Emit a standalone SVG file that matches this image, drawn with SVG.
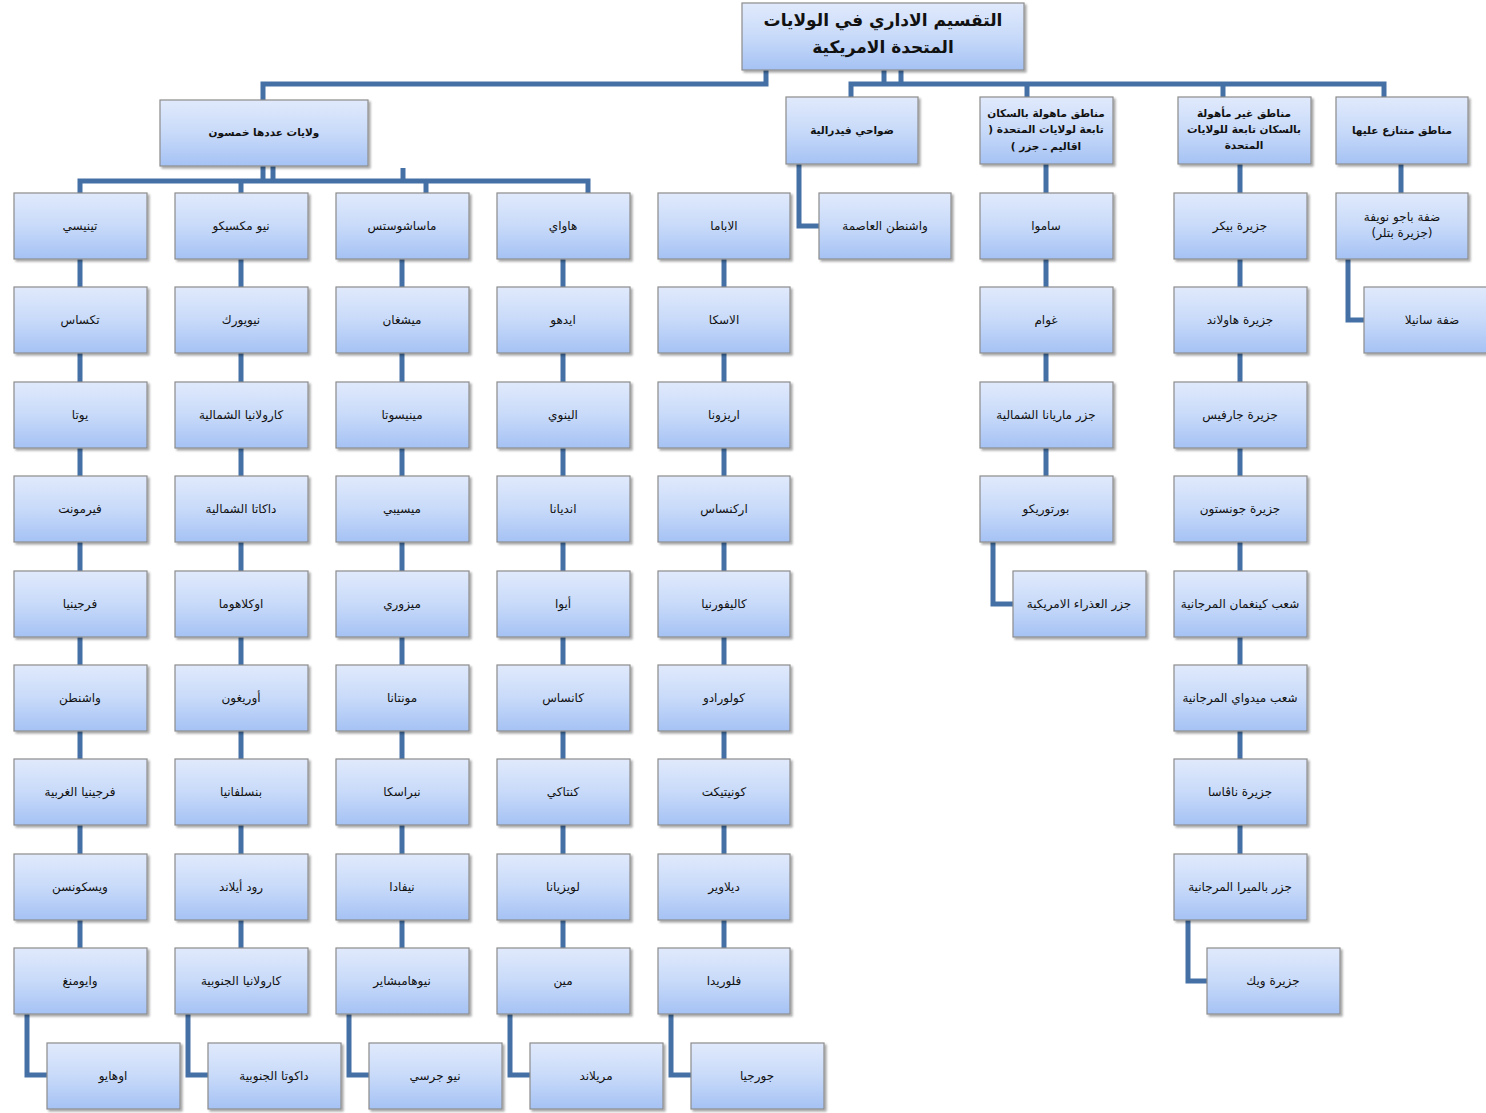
<svg xmlns="http://www.w3.org/2000/svg" width="1486" height="1113" viewBox="0 0 1486 1113">
<defs>
<linearGradient id="g" x1="0" y1="0" x2="0" y2="1">
<stop offset="0" stop-color="#e1eafc"/>
<stop offset="0.5" stop-color="#c8daf9"/>
<stop offset="1" stop-color="#a5c2f4"/>
</linearGradient>
<filter id="sh" x="-10%" y="-10%" width="125%" height="130%">
<feDropShadow dx="2" dy="2" stdDeviation="1.2" flood-color="#000" flood-opacity="0.35"/>
</filter>
<style>
.b{fill:url(#g);stroke:#8c8c8c;stroke-width:1.2;filter:url(#sh)}
.t{font-family:"DejaVu Sans",sans-serif;font-size:12px;fill:#111;text-anchor:middle;direction:rtl}
.h{font-weight:bold;font-size:10.5px}
.ti{font-weight:bold;font-size:17px}
.c{fill:none;stroke:#4470a6;stroke-width:5;stroke-linejoin:miter}
</style>
</defs>
<rect width="1486" height="1113" fill="#fff"/>
<g id="connectors" class="c">
<polyline points="766,70 766,84 263,84 263,100"/>
<line x1="884" y1="70" x2="884" y2="84"/>
<line x1="901" y1="70" x2="901" y2="84"/>
<polyline points="851,97 851,84 1384,84 1384,97"/>
<line x1="1027" y1="84" x2="1027" y2="97"/>
<line x1="1223" y1="84" x2="1223" y2="97"/>
<line x1="263" y1="166" x2="263" y2="181"/>
<line x1="273" y1="166" x2="273" y2="181"/>
<line x1="403" y1="168" x2="403" y2="181"/>
<polyline points="80,193 80,181 588,181 588,193"/>
<line x1="241" y1="181" x2="241" y2="193"/>
<line x1="426" y1="181" x2="426" y2="193"/>
<line x1="80" y1="226" x2="80" y2="981"/>
<line x1="241" y1="226" x2="241" y2="981"/>
<line x1="402" y1="226" x2="402" y2="981"/>
<line x1="563" y1="226" x2="563" y2="981"/>
<line x1="724" y1="226" x2="724" y2="981"/>
<polyline points="27,1014 27,1075 47,1075"/>
<polyline points="188,1014 188,1075 208,1075"/>
<polyline points="349,1014 349,1075 369,1075"/>
<polyline points="510,1014 510,1075 530,1075"/>
<polyline points="671,1014 671,1075 691,1075"/>
<polyline points="799,164 799,226 819,226"/>
<line x1="1046" y1="164" x2="1046" y2="509"/>
<polyline points="993,542 993,604 1013,604"/>
<line x1="1240" y1="164" x2="1240" y2="887"/>
<polyline points="1188,920 1188,981 1207,981"/>
<line x1="1401" y1="164" x2="1401" y2="193"/>
<polyline points="1348,259 1348,320 1364,320"/>
</g>
<g id="title"><rect class="b" x="742" y="3" width="282" height="67"/><text class="t ti" x="883" y="26">التقسيم الاداري في الولايات</text><text class="t ti" x="883" y="53">المتحدة الامريكية</text></g>
<g id="states50"><rect class="b" x="160" y="100" width="208" height="66"/><text class="t h" x="264" y="136">ولايات عددها خمسون</text></g>
<g id="federal"><rect class="b" x="786" y="97" width="132" height="67"/><text class="t h" x="852" y="134">ضواحي فيدرالية</text></g>
<g id="inhabited"><rect class="b" x="980" y="97" width="133" height="67"/><text class="t h" x="1046" y="117">مناطق ماهولة بالسكان</text><text class="t h" x="1046" y="133">تابعة لولايات المتحدة (</text><text class="t h" x="1046" y="150">اقاليم ـ جزر )</text></g>
<g id="uninhabited"><rect class="b" x="1178" y="97" width="133" height="67"/><text class="t h" x="1244" y="117">مناطق غير مأهولة</text><text class="t h" x="1244" y="133">بالسكان تابعة للولايات</text><text class="t h" x="1244" y="149">المتحدة</text></g>
<g id="disputed"><rect class="b" x="1336" y="97" width="132" height="67"/><text class="t h" x="1402" y="134">مناطق متنازع عليها</text></g>

<g id="colA">
<g id="n-a1"><rect class="b" x="14" y="193" width="133" height="66"/><text class="t" x="80" y="230">تينيسي</text></g>
<g id="n-a2"><rect class="b" x="14" y="287" width="133" height="66"/><text class="t" x="80" y="324">تكساس</text></g>
<g id="n-a3"><rect class="b" x="14" y="382" width="133" height="66"/><text class="t" x="80" y="419">يوتا</text></g>
<g id="n-a4"><rect class="b" x="14" y="476" width="133" height="66"/><text class="t" x="80" y="513">فيرمونت</text></g>
<g id="n-a5"><rect class="b" x="14" y="571" width="133" height="66"/><text class="t" x="80" y="608">فرجينيا</text></g>
<g id="n-a6"><rect class="b" x="14" y="665" width="133" height="66"/><text class="t" x="80" y="702">واشنطن</text></g>
<g id="n-a7"><rect class="b" x="14" y="759" width="133" height="66"/><text class="t" x="80" y="796">فرجينيا الغربية</text></g>
<g id="n-a8"><rect class="b" x="14" y="854" width="133" height="66"/><text class="t" x="80" y="891">ويسكونسن</text></g>
<g id="n-a9"><rect class="b" x="14" y="948" width="133" height="66"/><text class="t" x="80" y="985">وايومنغ</text></g>
<g id="n-a10"><rect class="b" x="47" y="1043" width="133" height="66"/><text class="t" x="113" y="1080">اوهايو</text></g>
</g>
<g id="colB">
<g id="n-b1"><rect class="b" x="175" y="193" width="133" height="66"/><text class="t" x="241" y="230">نيو مكسيكو</text></g>
<g id="n-b2"><rect class="b" x="175" y="287" width="133" height="66"/><text class="t" x="241" y="324">نيويورك</text></g>
<g id="n-b3"><rect class="b" x="175" y="382" width="133" height="66"/><text class="t" x="241" y="419">كارولانيا الشمالية</text></g>
<g id="n-b4"><rect class="b" x="175" y="476" width="133" height="66"/><text class="t" x="241" y="513">داكاتا الشمالية</text></g>
<g id="n-b5"><rect class="b" x="175" y="571" width="133" height="66"/><text class="t" x="241" y="608">اوكلاهوما</text></g>
<g id="n-b6"><rect class="b" x="175" y="665" width="133" height="66"/><text class="t" x="241" y="702">أوريغون</text></g>
<g id="n-b7"><rect class="b" x="175" y="759" width="133" height="66"/><text class="t" x="241" y="796">بنسلفانيا</text></g>
<g id="n-b8"><rect class="b" x="175" y="854" width="133" height="66"/><text class="t" x="241" y="891">رود أيلاند</text></g>
<g id="n-b9"><rect class="b" x="175" y="948" width="133" height="66"/><text class="t" x="241" y="985">كارولانيا الجنوبية</text></g>
<g id="n-b10"><rect class="b" x="208" y="1043" width="133" height="66"/><text class="t" x="274" y="1080">داكوتا الجنوبية</text></g>
</g>
<g id="colC">
<g id="n-c1"><rect class="b" x="336" y="193" width="133" height="66"/><text class="t" x="402" y="230">ماساشوستس</text></g>
<g id="n-c2"><rect class="b" x="336" y="287" width="133" height="66"/><text class="t" x="402" y="324">ميشغان</text></g>
<g id="n-c3"><rect class="b" x="336" y="382" width="133" height="66"/><text class="t" x="402" y="419">مينيسوتا</text></g>
<g id="n-c4"><rect class="b" x="336" y="476" width="133" height="66"/><text class="t" x="402" y="513">ميسيبي</text></g>
<g id="n-c5"><rect class="b" x="336" y="571" width="133" height="66"/><text class="t" x="402" y="608">ميزوري</text></g>
<g id="n-c6"><rect class="b" x="336" y="665" width="133" height="66"/><text class="t" x="402" y="702">مونتانا</text></g>
<g id="n-c7"><rect class="b" x="336" y="759" width="133" height="66"/><text class="t" x="402" y="796">نبراسكا</text></g>
<g id="n-c8"><rect class="b" x="336" y="854" width="133" height="66"/><text class="t" x="402" y="891">نيفادا</text></g>
<g id="n-c9"><rect class="b" x="336" y="948" width="133" height="66"/><text class="t" x="402" y="985">نيوهامبشاير</text></g>
<g id="n-c10"><rect class="b" x="369" y="1043" width="133" height="66"/><text class="t" x="435" y="1080">نيو جرسي</text></g>
</g>
<g id="colD">
<g id="n-d1"><rect class="b" x="497" y="193" width="133" height="66"/><text class="t" x="563" y="230">هاواي</text></g>
<g id="n-d2"><rect class="b" x="497" y="287" width="133" height="66"/><text class="t" x="563" y="324">ايدهو</text></g>
<g id="n-d3"><rect class="b" x="497" y="382" width="133" height="66"/><text class="t" x="563" y="419">الينوي</text></g>
<g id="n-d4"><rect class="b" x="497" y="476" width="133" height="66"/><text class="t" x="563" y="513">انديانا</text></g>
<g id="n-d5"><rect class="b" x="497" y="571" width="133" height="66"/><text class="t" x="563" y="608">أيوا</text></g>
<g id="n-d6"><rect class="b" x="497" y="665" width="133" height="66"/><text class="t" x="563" y="702">كانساس</text></g>
<g id="n-d7"><rect class="b" x="497" y="759" width="133" height="66"/><text class="t" x="563" y="796">كنتاكي</text></g>
<g id="n-d8"><rect class="b" x="497" y="854" width="133" height="66"/><text class="t" x="563" y="891">لويزيانا</text></g>
<g id="n-d9"><rect class="b" x="497" y="948" width="133" height="66"/><text class="t" x="563" y="985">مين</text></g>
<g id="n-d10"><rect class="b" x="530" y="1043" width="133" height="66"/><text class="t" x="596" y="1080">مريلاند</text></g>
</g>
<g id="colE">
<g id="n-e1"><rect class="b" x="658" y="193" width="132" height="66"/><text class="t" x="724" y="230">الاباما</text></g>
<g id="n-e2"><rect class="b" x="658" y="287" width="132" height="66"/><text class="t" x="724" y="324">الاسكا</text></g>
<g id="n-e3"><rect class="b" x="658" y="382" width="132" height="66"/><text class="t" x="724" y="419">اريزونا</text></g>
<g id="n-e4"><rect class="b" x="658" y="476" width="132" height="66"/><text class="t" x="724" y="513">اركنساس</text></g>
<g id="n-e5"><rect class="b" x="658" y="571" width="132" height="66"/><text class="t" x="724" y="608">كاليفورنيا</text></g>
<g id="n-e6"><rect class="b" x="658" y="665" width="132" height="66"/><text class="t" x="724" y="702">كولورادو</text></g>
<g id="n-e7"><rect class="b" x="658" y="759" width="132" height="66"/><text class="t" x="724" y="796">كونيتيكت</text></g>
<g id="n-e8"><rect class="b" x="658" y="854" width="132" height="66"/><text class="t" x="724" y="891">ديلاوير</text></g>
<g id="n-e9"><rect class="b" x="658" y="948" width="132" height="66"/><text class="t" x="724" y="985">فلوريدا</text></g>
<g id="n-e10"><rect class="b" x="691" y="1043" width="133" height="66"/><text class="t" x="757" y="1080">جورجيا</text></g>
</g>
<g id="n-dc"><rect class="b" x="819" y="193" width="132" height="66"/><text class="t" x="885" y="230">واشنطن العاصمة</text></g>
<g id="colF">
<g id="n-f1"><rect class="b" x="980" y="193" width="133" height="66"/><text class="t" x="1046" y="230">ساموا</text></g>
<g id="n-f2"><rect class="b" x="980" y="287" width="133" height="66"/><text class="t" x="1046" y="324">غوام</text></g>
<g id="n-f3"><rect class="b" x="980" y="382" width="133" height="66"/><text class="t" x="1046" y="419">جزر ماريانا الشمالية</text></g>
<g id="n-f4"><rect class="b" x="980" y="476" width="133" height="66"/><text class="t" x="1046" y="513">بورتوريكو</text></g>
<g id="n-f5"><rect class="b" x="1013" y="571" width="133" height="66"/><text class="t" x="1079" y="608">جزر العذراء الامريكية</text></g>
</g>
<g id="colG">
<g id="n-g1"><rect class="b" x="1174" y="193" width="133" height="66"/><text class="t" x="1240" y="230">جزيرة بيكر</text></g>
<g id="n-g2"><rect class="b" x="1174" y="287" width="133" height="66"/><text class="t" x="1240" y="324">جزيرة هاولاند</text></g>
<g id="n-g3"><rect class="b" x="1174" y="382" width="133" height="66"/><text class="t" x="1240" y="419">جزيرة جارفيس</text></g>
<g id="n-g4"><rect class="b" x="1174" y="476" width="133" height="66"/><text class="t" x="1240" y="513">جزيرة جونستون</text></g>
<g id="n-g5"><rect class="b" x="1174" y="571" width="133" height="66"/><text class="t" x="1240" y="608">شعب كينغمان المرجانية</text></g>
<g id="n-g6"><rect class="b" x="1174" y="665" width="133" height="66"/><text class="t" x="1240" y="702">شعب ميدواي المرجانية</text></g>
<g id="n-g7"><rect class="b" x="1174" y="759" width="133" height="66"/><text class="t" x="1240" y="796">جزيرة ناڤاسا</text></g>
<g id="n-g8"><rect class="b" x="1174" y="854" width="133" height="66"/><text class="t" x="1240" y="891">جزر بالميرا المرجانية</text></g>
<g id="n-g9"><rect class="b" x="1207" y="948" width="133" height="66"/><text class="t" x="1273" y="985">جزيرة ويك</text></g>
</g>
<g id="colH">
<g id="n-h1"><rect class="b" x="1336" y="193" width="132" height="66"/><text class="t" x="1402" y="221">ضفة باجو نويفة</text><text class="t" x="1402" y="237">(جزيرة بتلر)</text></g>
<g id="n-h2"><rect class="b" x="1364" y="287" width="132" height="66"/><text class="t" x="1432" y="324">ضفة سانيلا</text></g>
</g>
</svg>
